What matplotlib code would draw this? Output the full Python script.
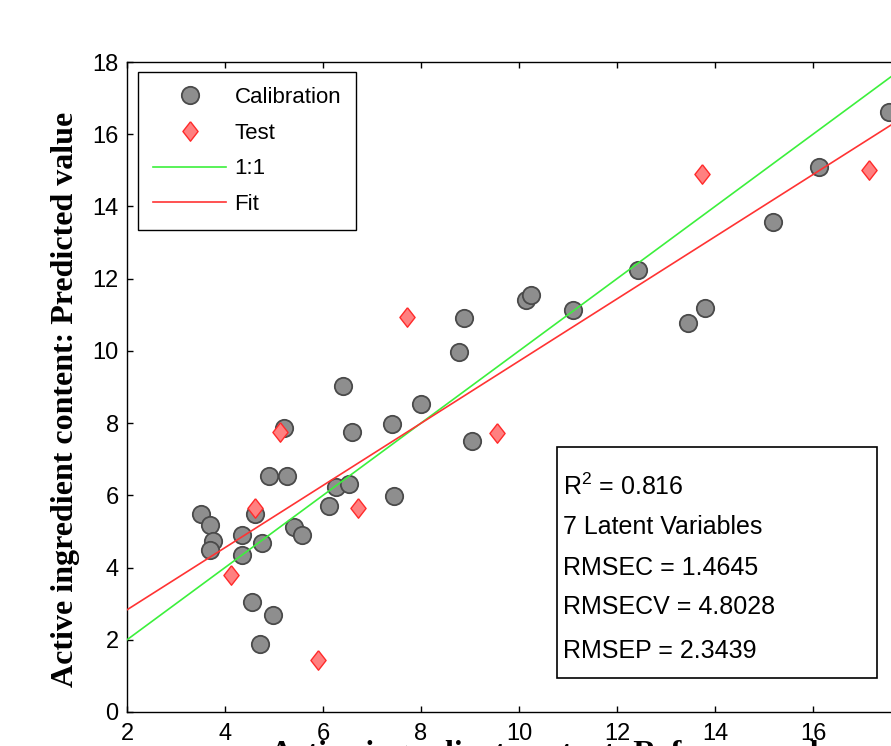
import matplotlib
matplotlib.use("Agg")
import matplotlib.pyplot as plt
from matplotlib.patches import Rectangle

# ---- data ----
cal_x = [3.51, 3.69, 3.76, 3.69, 4.35, 4.35, 4.61, 4.76, 4.55, 4.98, 4.71, 4.90,
         5.20, 5.27, 5.41, 5.57, 6.12, 6.27, 6.53, 6.41, 6.59, 7.41, 7.45, 8.00,
         8.78, 8.88, 9.04, 10.14, 10.24, 11.10, 12.43, 13.45, 13.80, 15.18, 16.12, 17.55]
cal_y = [5.48, 5.18, 4.74, 4.49, 4.90, 4.35, 5.48, 4.68, 3.05, 2.69, 1.88, 6.54,
         7.87, 6.54, 5.12, 4.90, 5.71, 6.23, 6.32, 9.03, 7.76, 7.98, 5.98, 8.53,
         9.97, 10.91, 7.51, 11.41, 11.55, 11.14, 12.24, 10.78, 11.19, 13.57, 15.10, 16.62]
test_x = [4.12, 4.61, 5.12, 5.90, 6.71, 7.71, 9.55, 13.73, 17.14]
test_y = [3.80, 5.65, 7.76, 1.44, 5.65, 10.94, 7.73, 14.90, 15.01]
fit_slope = 0.861
fit_intercept = 1.108
x_limits = [2, 18]
y_limits = [0, 18]
x_ticks = [2, 4, 6, 8, 10, 12, 14, 16]
y_ticks = [0, 2, 4, 6, 8, 10, 12, 14, 16, 18]
legend_labels = ["Calibration", "Test", "1:1", "Fit"]
stats_lines = [r"R$^{2}$ = 0.816", "7 Latent Variables", "RMSEC = 1.4645",
               "RMSECV = 4.8028", "RMSEP = 2.3439"]
xlabel = "Active ingredient content: Reference value"
ylabel = "Active ingredient content: Predicted value"

plt.rcParams["font.family"] = ["Liberation Sans", "DejaVu Sans"]
plt.rcParams["mathtext.fontset"] = "custom"
plt.rcParams["mathtext.rm"] = "Liberation Sans"
plt.rcParams["mathtext.it"] = "Liberation Sans:italic"
plt.rcParams["mathtext.default"] = "regular"

W, H = 891, 746
fig = plt.figure(figsize=(W / 100, H / 100), dpi=100)
left_px, right_px, top_px, bot_px = 127, 911, 62, 712
AW, AH = right_px - left_px, bot_px - top_px
ax = fig.add_axes([left_px / W, (H - bot_px) / H, AW / W, AH / H])

ax.plot(cal_x, cal_y, linestyle="none", marker="o", markersize=12.5,
        markerfacecolor="#8e8e8e", markeredgecolor="#4a4a4a", markeredgewidth=1.3,
        zorder=2, label=legend_labels[0])
diamond = [(0, 1), (0.78, 0), (0, -1), (-0.78, 0), (0, 1)]
ax.plot(test_x, test_y, linestyle="none", marker=diamond, markersize=14,
        markerfacecolor="#ff8080", markeredgecolor="#ff2a2a", markeredgewidth=1.0,
        zorder=2, label=legend_labels[1])
ax.plot(x_limits, x_limits, color="#3cf03c", linewidth=1.2, zorder=3,
        label=legend_labels[2])
ax.plot(x_limits, [fit_slope * v + fit_intercept for v in x_limits],
        color="#ff3333", linewidth=1.2, zorder=3, label=legend_labels[3])

ax.set_xlim(x_limits)
ax.set_ylim(y_limits)
ax.set_xticks(x_ticks)
ax.set_yticks(y_ticks)
ax.tick_params(direction="in", length=4, width=1, top=True, right=True,
               labelsize=17, colors="black")
ax.tick_params(axis="x", pad=8)
ax.tick_params(axis="y", pad=6)
for s in ax.spines.values():
    s.set_linewidth(1.0)
    s.set_color("black")

ax.set_ylabel(ylabel, family=["Liberation Serif", "DejaVu Serif"],
              fontweight="bold", fontsize=23)
ax.yaxis.set_label_coords(-(left_px - 66) / AW, (bot_px - 399) / AH)
ax.yaxis.label.set_verticalalignment("center")

fig.text(560 / W, -16 / H, xlabel, family=["Liberation Serif", "DejaVu Serif"],
         fontweight="bold", fontsize=23, ha="center", va="baseline")

leg = ax.legend(loc="upper left",
                bbox_to_anchor=((138 - left_px) / AW, (bot_px - 72) / AH),
                borderaxespad=0, fontsize=16, frameon=True, fancybox=False,
                edgecolor="black", framealpha=1, handlelength=3.3,
                handletextpad=0.36, labelspacing=0.66, borderpad=0.68)
leg.get_frame().set_linewidth(1.0)

# statistics box
bx0, bx1, by0, by1 = 557, 877, 447, 678
ax.add_patch(Rectangle(((bx0 - left_px) / AW, (bot_px - by1) / AH),
                       (bx1 - bx0) / AW, (by1 - by0) / AH,
                       transform=ax.transAxes, facecolor="white",
                       edgecolor="black", linewidth=1.2, zorder=4))
line_centers = [487, 527, 568, 607, 651]
for txt, yc in zip(stats_lines, line_centers):
    ax.text((563 - left_px) / AW, (bot_px - yc) / AH, txt, transform=ax.transAxes,
            fontsize=18, ha="left", va="center", zorder=5)

fig.savefig("out.png", dpi=100)
